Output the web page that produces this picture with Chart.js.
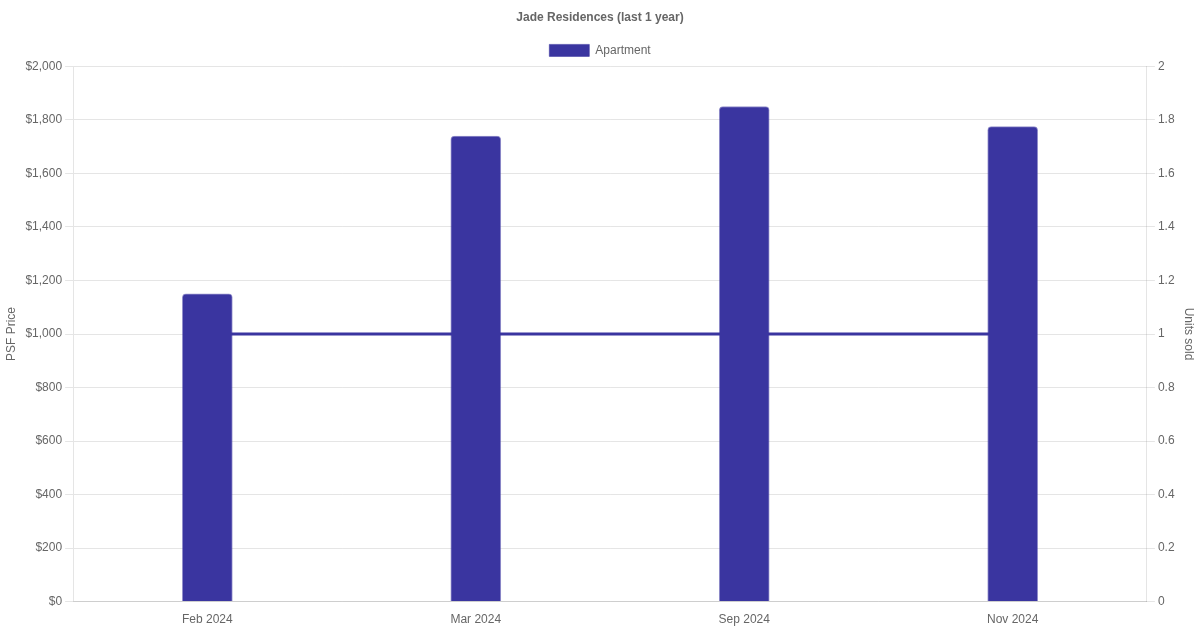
<!DOCTYPE html>
<html>
<head>
<meta charset="utf-8">
<script src="https://cdn.jsdelivr.net/npm/chart.js@4"></script>
<style>
  html, body { margin:0; padding:0; background:#fff; }
  #wrap { width:1200px; height:630px; }
</style>
</head>
<body>
<div id="wrap"><canvas id="chart"></canvas></div>
<script>
const months = ['Feb 2024', 'Mar 2024', 'Sep 2024', 'Nov 2024'];
const psfPrice = [1150, 1740, 1850, 1775];
const unitsSold = [1, 1, 1, 1];

const fill = '#3a35a0';

Chart.defaults.font.family = "'Liberation Sans', Arial, sans-serif";
Chart.defaults.color = '#666';

new Chart(document.getElementById('chart'), {
  data: {
    labels: months,
    datasets: [
      { type:'bar', label:'Apartment', data:psfPrice, yAxisID:'y',
        backgroundColor:fill, borderColor:'rgba(58,53,160,0.55)', borderWidth:1,
        borderRadius:4, borderSkipped:'bottom', barThickness:50 },
      { type:'line', label:'Units sold', data:unitsSold, yAxisID:'y1',
        borderColor:fill, backgroundColor:fill, borderWidth:3, pointRadius:0, fill:false }
    ]
  },
  options: {
    responsive:true, maintainAspectRatio:false, animation:false,
    plugins: {
      title: { display:true, text:'Jade Residences (last 1 year)', font:{ size:12, weight:'bold' }, padding:{ top:10, bottom:10 } },
      legend: { labels:{ filter: item => item.datasetIndex === 0 } }
    },
    scales: {
      x: { grid:{ display:false }, ticks:{ color:'#666' } },
      y: { position:'left', min:0, max:2000,
        ticks:{ stepSize:200, callback: v => '$' + v.toLocaleString('en-US') },
        title:{ display:true, text:'PSF Price' } },
      y1: { position:'right', min:0, max:2, grid:{ drawOnChartArea:false },
        ticks:{ stepSize:0.2, callback: v => String(Math.round(v * 10) / 10) },
        title:{ display:true, text:'Units sold' } }
    }
  }
});
</script>
</body>
</html>
